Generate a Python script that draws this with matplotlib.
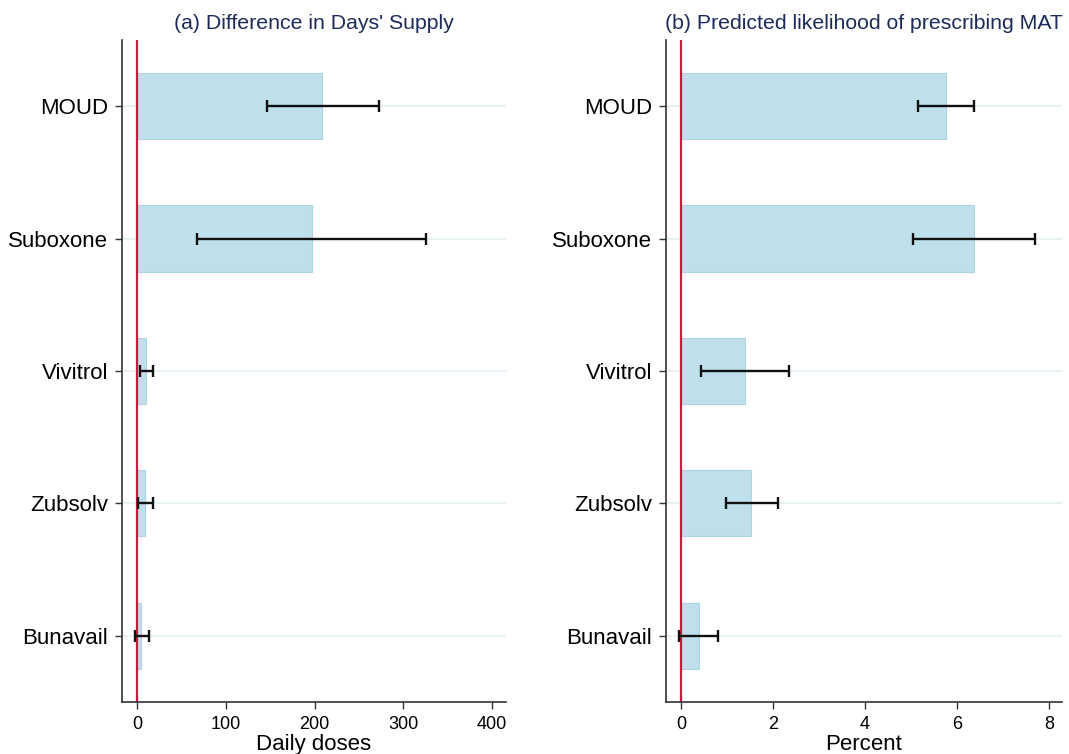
import matplotlib.pyplot as plt
import numpy as np

plt.rcParams['font.family'] = ['Liberation Sans', 'DejaVu Sans']

drugs = ["MOUD", "Suboxone", "Vivitrol", "Zubsolv", "Bunavail"]

# (a) difference in days' supply
supply_est = [209, 197, 10, 9.4, 4.8]
supply_lo = [146, 68, 3.4, 1.1, -2.6]
supply_hi = [273, 326, 17.7, 17.7, 13]

# (b) predicted likelihood of prescribing MAT
pct_est = [5.76, 6.36, 1.39, 1.53, 0.39]
pct_lo = [5.16, 5.04, 0.43, 0.97, -0.04]
pct_hi = [6.36, 7.70, 2.35, 2.10, 0.81]

fig = plt.figure(figsize=(10.69, 7.54), dpi=100)
ax1 = fig.add_axes([0.1141, 0.069, 0.3588, 0.878])
ax2 = fig.add_axes([0.623, 0.069, 0.3705, 0.878])

def panel(ax, est, lo, hi, title, xlabel, xlim, xticks):
    y = np.arange(len(drugs))[::-1] + 1
    est = np.array(est)
    err = [est - np.array(lo), np.array(hi) - est]
    for yy in y:
        ax.axhline(yy, color="#e3f0f3", lw=1.2, zorder=0)
    ax.barh(y, est, height=0.5, color="#bfe0ea", edgecolor="#a9d4e3", lw=0.8, zorder=1)
    ax.errorbar(est, y, xerr=err, fmt="none", ecolor="#111111", elinewidth=1.7,
                capsize=4.5, capthick=1.7, zorder=3)
    ax.axvline(0, color="#d4163c", lw=1.6, zorder=2)
    ax.set_yticks(y)
    ax.set_yticklabels(drugs, fontsize=16)
    ax.set_ylim(0.5, 5.5)
    ax.set_xlim(*xlim)
    ax.set_xticks(xticks)
    ax.tick_params(axis="x", labelsize=13, length=5, width=1, color="#333333", pad=5)
    ax.tick_params(axis="y", length=5, width=1, color="#333333", pad=5)
    ax.set_xlabel(xlabel, fontsize=16, labelpad=1)
    ax.set_title(title, fontsize=15.3, color="#1c2b5a", pad=8)
    for s in ["top", "right"]:
        ax.spines[s].set_visible(False)
    for s in ["left", "bottom"]:
        ax.spines[s].set_color("#333333")
        ax.spines[s].set_linewidth(1.2)

panel(ax1, supply_est, supply_lo, supply_hi, "(a) Difference in Days' Supply",
      "Daily doses", (-16.9, 415.2), [0, 100, 200, 300, 400])
panel(ax2, pct_est, pct_lo, pct_hi, "(b) Predicted likelihood of prescribing MAT",
      "Percent", (-0.326, 8.28), [0, 2, 4, 6, 8])

fig.savefig("out.png", dpi=100)
